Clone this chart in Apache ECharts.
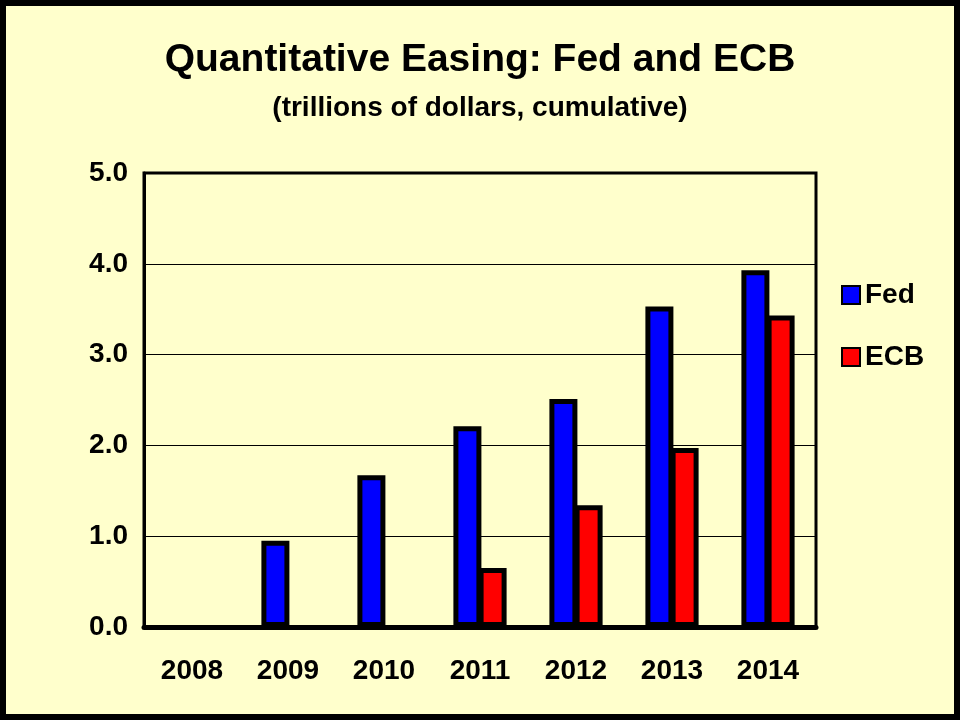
<!DOCTYPE html>
<html>
<head>
<meta charset="utf-8">
<script src="https://cdn.jsdelivr.net/npm/echarts@6/dist/echarts.min.js"></script>
<style>
  html, body { margin: 0; padding: 0; background: #000; }
  #chart { width: 960px; height: 720px; box-sizing: border-box; border: 6px solid #000; background: #FFFFCC; }
</style>
</head>
<body>
<div id="chart"></div>
<script>
const years = ['2008', '2009', '2010', '2011', '2012', '2013', '2014'];
const fedValues = [0, 0.95, 1.67, 2.21, 2.51, 3.53, 3.93];
const ecbValues = [0, 0, 0, 0.65, 1.34, 1.97, 3.43];
const yTicks = { min: 0, max: 5, interval: 1 };

const chart = echarts.init(document.getElementById('chart'), null, { renderer: 'canvas' });
const font = 'Arial, "Liberation Sans", sans-serif';
// zero bars are not drawn in the original
const hideZero = arr => arr.map(v => (v === 0 ? null : v));

chart.setOption({
    backgroundColor: '#FFFFCC',
    title: {
        text: 'Quantitative Easing: Fed and ECB',
        subtext: '(trillions of dollars, cumulative)',
        left: 'center',
        top: 30,
        itemGap: 14,
        textStyle: { fontFamily: font, fontSize: 39, fontWeight: 'bold', color: '#000' },
        subtextStyle: { fontFamily: font, fontSize: 28, fontWeight: 'bold', color: '#000' }
    },
    legend: {
        orient: 'vertical',
        left: 830,
        top: 270,
        itemGap: 34,
        itemWidth: 18,
        itemHeight: 18,
        icon: 'rect',
        textStyle: { fontFamily: font, fontSize: 28, fontWeight: 'bold', color: '#000' },
        data: ['Fed', 'ECB']
    },
    grid: { left: 138, right: 138, top: 167, bottom: 87, show: true, borderColor: '#000', borderWidth: 3, backgroundColor: 'transparent' },
    xAxis: {
        type: 'category',
        data: years,
        axisLine: { lineStyle: { color: '#000', width: 5 } },
        axisTick: { show: false },
        axisLabel: { fontFamily: font, fontSize: 28, fontWeight: 'bold', color: '#000', margin: 30 }
    },
    yAxis: {
        type: 'value',
        min: yTicks.min,
        max: yTicks.max,
        interval: yTicks.interval,
        axisLine: { show: true, lineStyle: { color: '#000', width: 3 } },
        axisTick: { show: false },
        splitLine: { lineStyle: { color: '#000', width: 1 } },
        axisLabel: { fontFamily: font, fontSize: 28, fontWeight: 'bold', color: '#000', margin: 16,
            formatter: v => v.toFixed(1) }
    },
    series: [
        {
            name: 'Fed', type: 'bar', data: hideZero(fedValues), barWidth: 28, barGap: '-10%',
            itemStyle: { color: '#0000FF', borderColor: '#000', borderWidth: 5 }
        },
        {
            name: 'ECB', type: 'bar', data: hideZero(ecbValues), barWidth: 28,
            itemStyle: { color: '#FF0000', borderColor: '#000', borderWidth: 5 }
        }
    ]
});
</script>
</body>
</html>
